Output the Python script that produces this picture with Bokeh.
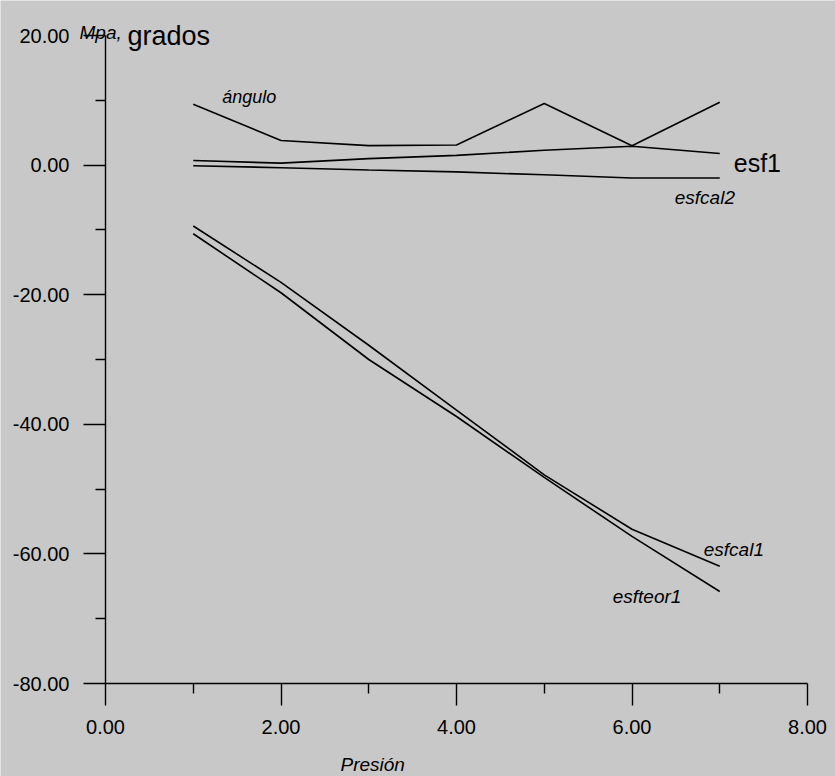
from bokeh.plotting import figure
from bokeh.models import (ColumnDataSource, FixedTicker, NumeralTickFormatter,
                          Range1d, Label)
from bokeh.embed import file_html
from bokeh.resources import INLINE

# ---- data ----
presion = [1, 2, 3, 4, 5, 6, 7]
angulo = [9.4, 3.8, 3.0, 3.1, 9.5, 3.0, 9.7]
esf1 = [0.7, 0.3, 1.0, 1.5, 2.3, 2.9, 1.8]
esfcal2 = [-0.1, -0.4, -0.75, -1.05, -1.5, -2.0, -2.0]
esfcal1 = [-9.4, -18.1, -27.8, -37.8, -47.8, -56.2, -61.9]
esfteor1 = [-10.6, -19.7, -30.0, -38.8, -48.2, -57.3, -65.8]

x_major = [0, 2, 4, 6, 8]
x_minor = [1, 3, 5, 7]
y_major = [-80, -60, -40, -20, 0, 20]
y_minor = [-70, -50, -30, -10, 10]

# ---- layout (pixels) ----
W, H = 835, 776
AX_L, AX_R, AX_T, AX_B = 105, 807, 35, 683   # where the axes box sits on the canvas
X0, X1 = x_major[0], x_major[-1]
Y0, Y1 = y_major[0], y_major[-1]
xpx = (AX_R - AX_L) / (X1 - X0)
ypx = (AX_B - AX_T) / (Y1 - Y0)

BG = "#c8c8c8"
FONT = "Liberation Sans"

p = figure(output_backend="svg", toolbar_location=None,
           width=W, height=H, min_border=0,
           x_range=Range1d(X0 - AX_L / xpx, X1 + (W - AX_R) / xpx),
           y_range=Range1d(Y0 - (H - AX_B) / ypx, Y1 + AX_T / ypx),
           background_fill_color=BG, border_fill_color=BG)
p.outline_line_color = None
p.xgrid.visible = False
p.ygrid.visible = False

src = ColumnDataSource(dict(x=presion, angulo=angulo, esf1=esf1,
                            esfcal2=esfcal2, esfcal1=esfcal1, esfteor1=esfteor1))
for col in ["angulo", "esf1", "esfcal2", "esfcal1", "esfteor1"]:
    p.line("x", col, source=src, line_color="black", line_width=1.6)

# axes: drawn at fixed positions inside the canvas
p.xaxis[0].fixed_location = Y0
p.xaxis[0].bounds = (X0, X1)
p.yaxis[0].fixed_location = X0
p.yaxis[0].bounds = (Y0, Y1)
for ax, maj, mnr in [(p.xaxis[0], x_major, x_minor), (p.yaxis[0], y_major, y_minor)]:
    ax.ticker = FixedTicker(ticks=maj, minor_ticks=mnr)
    ax.formatter = NumeralTickFormatter(format="0.00")
    ax.axis_line_color = "black"
    ax.axis_line_width = 1.4
    ax.major_tick_line_color = "black"
    ax.major_tick_line_width = 1.4
    ax.minor_tick_line_color = "black"
    ax.minor_tick_line_width = 1.4
    ax.major_tick_in = 0
    ax.major_tick_out = 22
    ax.minor_tick_in = 0
    ax.minor_tick_out = 10
    ax.major_label_text_font = FONT
    ax.major_label_text_font_size = "20px"
    ax.major_label_text_color = "black"
p.xaxis[0].major_label_standoff = 14
p.yaxis[0].major_label_standoff = 14

# text labels, anchored at data points with pixel offsets
def add_label(txt, x, y, dx, dy, size, style, baseline="alphabetic"):
    p.add_layout(Label(x=x, y=y, x_offset=dx, y_offset=dy, text=txt,
                       text_font=FONT, text_font_size=size,
                       text_font_style=style, text_color="black",
                       text_baseline=baseline, text_align="left"))

add_label("ángulo", presion[0], angulo[0], 29, 7, "18px", "italic", "middle")
add_label("esf1", presion[-1], esf1[-1], 14, -10, "25px", "normal")
add_label("esfcal2", presion[-1], esfcal2[-1], -45, -19, "19px", "italic")
add_label("esfcal1", presion[-1], esfcal1[-1], -16, 17, "19px", "italic")
add_label("esfteor1", presion[-1], esfteor1[-1], -107, -5, "19px", "italic")

# axis titles
add_label("Mpa,", X0, Y1, -26, 3, "19px", "italic")
add_label("grados", X0, Y1, 22, 0, "27px", "normal")
add_label("Presión", X0, Y0, 235, -81, "19px", "italic", "middle")

html = file_html(p, INLINE)
html = html.replace("<body>", '<body style="background-color:%s">' % BG, 1)
open("out.html", "w").write(html)
